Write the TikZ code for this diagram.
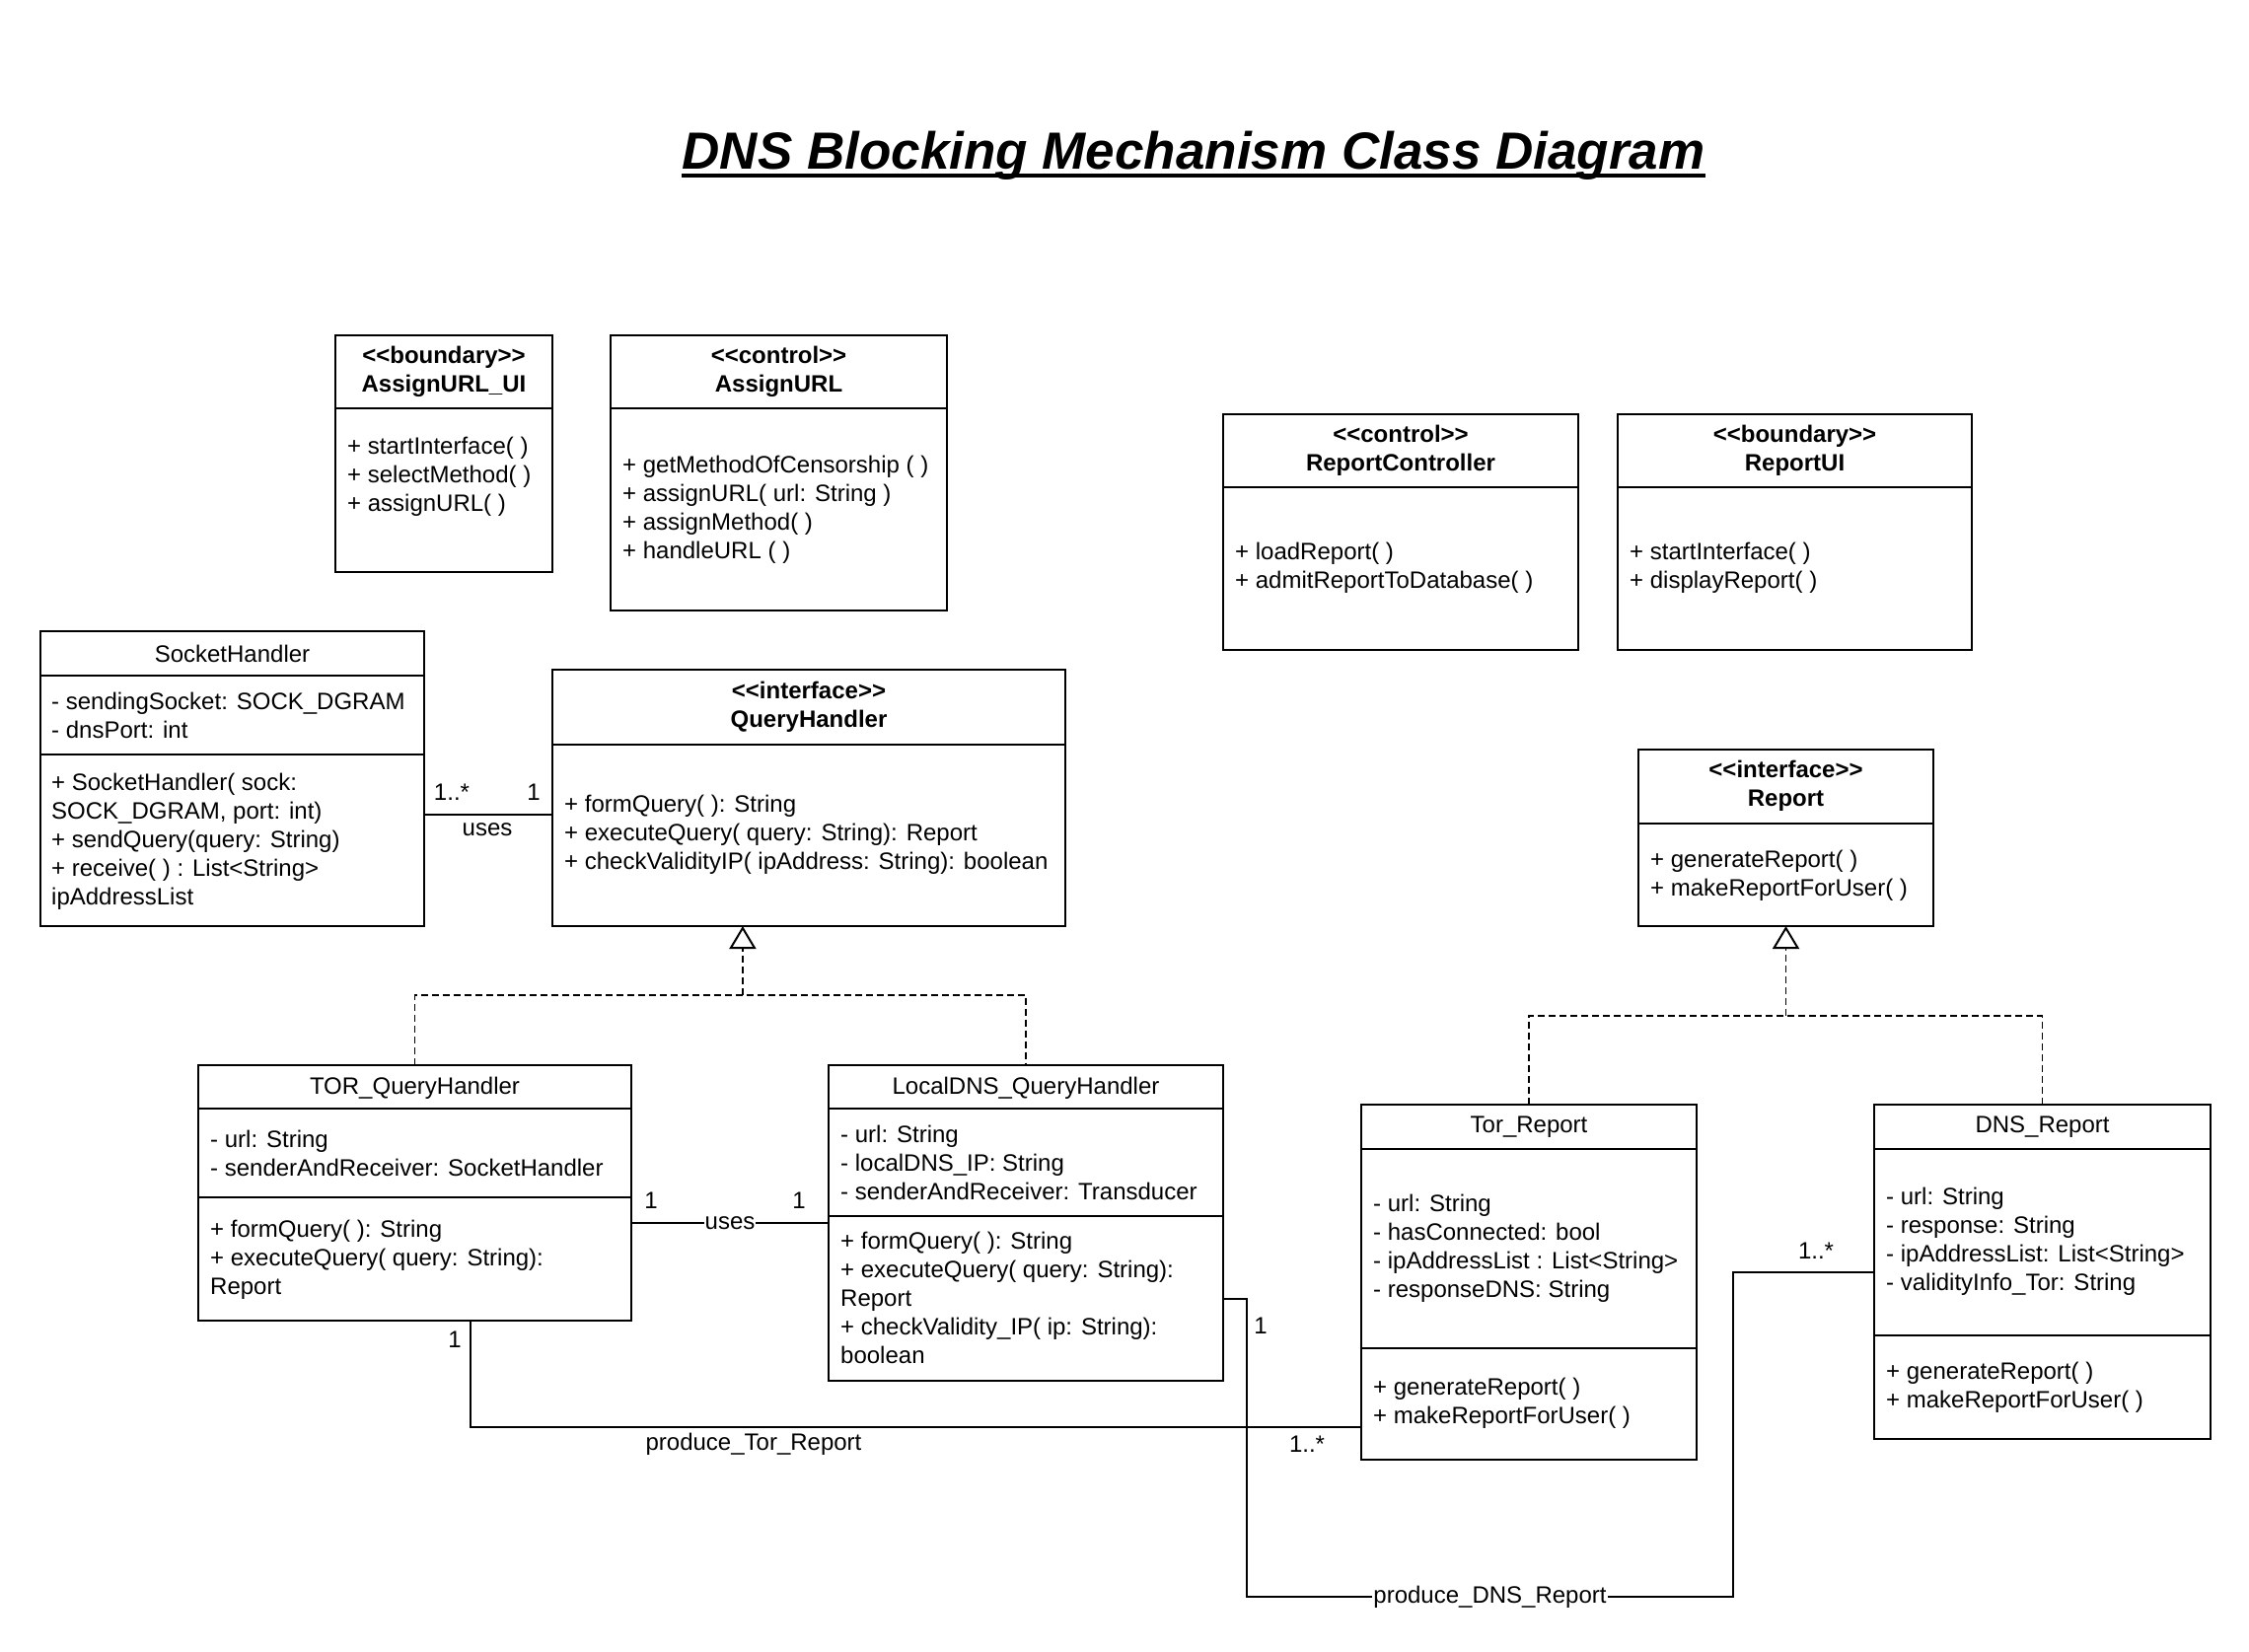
\documentclass[tikz,border=0pt]{standalone}
\usepackage{fontspec}
\setmainfont{Liberation Sans}
\usetikzlibrary{arrows.meta,calc}
\newcommand\lgl{<\kern0pt<}
\newcommand\rgr{>\kern0pt>}
\begin{document}
\begin{tikzpicture}[x=1pt,y=-1pt,
  cls/.style={draw, line width=2pt, rectangle, inner sep=0pt, outer sep=0pt, anchor=north west},
  div/.style={line width=2pt},
  txt/.style={font=\fontsize{24}{29}\selectfont, align=left, inner sep=0pt, anchor=west, yshift=-3pt},
  hdr/.style={font=\fontsize{24}{29}\selectfont\bfseries, align=center, inner sep=0pt, yshift=-3pt},
  cname/.style={font=\fontsize{24}{29}\selectfont, inner sep=0pt, yshift=-1.5pt},
  lbl/.style={font=\fontsize{24}{29}\selectfont, inner sep=0pt},
  conn/.style={line width=2pt},
  real/.style={line width=1.8pt, dash pattern=on 7pt off 4pt},
  gtip/.style={-{Triangle[open, width=27pt, length=23pt, line width=2pt]}}
]
\useasboundingbox[fill=white] (0,0) rectangle (2280,1675);

% title
\node[font=\fontsize{53}{64}\selectfont\bfseries\itshape, inner sep=0pt, anchor=base] (title) at (1210,171) {DNS Blocking Mechanism Class Diagram};
\draw[line width=4.5pt] ([yshift=-7pt]title.base west) -- ([yshift=-7pt]title.base east);

% AssignURL_UI
\node[cls, minimum width=220pt, minimum height=240pt] (aui) at (340,340) {};
\draw[div] (340,414) -- (560,414);
\node[hdr] (auiT) at (450,373.5) {\lgl boundary\rgr\\AssignURL\_UI};
\node[txt] (auiM) at (352,480) {+ startInterface( )\\+ selectMethod( )\\+ assignURL( )};

% AssignURL
\node[cls, minimum width=341pt, minimum height=279pt] (au) at (619,340) {};
\draw[div] (619,414) -- (960,414);
\node[hdr] (auT) at (789.5,373.5) {\lgl control\rgr\\AssignURL};
\node[txt] (auM) at (631,514) {+ getMethodOfCensorship ( )\\+ assignURL( url: String )\\+ assignMethod( )\\+ handleURL ( )};

% ReportController
\node[cls, minimum width=360pt, minimum height=239pt] (rc) at (1240,420) {};
\draw[div] (1240,494) -- (1600,494);
\node[hdr] (rcT) at (1420,453.5) {\lgl control\rgr\\ReportController};
\node[txt] (rcM) at (1252,572.5) {+ loadReport( )\\+ admitReportToDatabase( )};

% ReportUI
\node[cls, minimum width=359pt, minimum height=239pt] (rui) at (1640,420) {};
\draw[div] (1640,494) -- (1999,494);
\node[hdr] (ruiT) at (1819.5,453.5) {\lgl boundary\rgr\\ReportUI};
\node[txt] (ruiM) at (1652,572.5) {+ startInterface( )\\+ displayReport( )};

% SocketHandler
\node[cls, minimum width=389pt, minimum height=299pt] (sh) at (41,640) {};
\draw[div] (41,685) -- (430,685);
\draw[div] (41,765) -- (430,765);
\node[cname] (shT) at (235.5,661) {SocketHandler};
\node[txt] (shA) at (52,722.5) {- sendingSocket: SOCK\_DGRAM\\- dnsPort: int};
\node[txt] (shM) at (52,850) {+ SocketHandler( sock:\\SOCK\_DGRAM, port: int)\\+ sendQuery(query: String)\\+ receive( ) : List<String>\\ipAddressList};

% QueryHandler
\node[cls, minimum width=520pt, minimum height=260pt] (qh) at (560,679) {};
\draw[div] (560,755) -- (1080,755);
\node[hdr] (qhT) at (820,713.5) {\lgl interface\rgr\\QueryHandler};
\node[txt] (qhM) at (572,843.5) {+ formQuery( ): String\\+ executeQuery( query: String): Report\\+ checkValidityIP( ipAddress: String): boolean};

% Report (interface)
\node[cls, minimum width=299pt, minimum height=179pt] (rep) at (1661,760) {};
\draw[div] (1661,835) -- (1960,835);
\node[hdr] (repT) at (1810.5,793.5) {\lgl interface\rgr\\Report};
\node[txt] (repM) at (1673,884.5) {+ generateReport( )\\+ makeReportForUser( )};

% TOR_QueryHandler
\node[cls, minimum width=439pt, minimum height=259pt] (tqh) at (201,1080) {};
\draw[div] (201,1124) -- (640,1124);
\draw[div] (201,1214) -- (640,1214);
\node[cname] (tqhT) at (420.5,1102) {TOR\_QueryHandler};
\node[txt] (tqhA) at (213,1166.5) {- url: String\\- senderAndReceiver: SocketHandler};
\node[txt] (tqhM) at (213,1274) {+ formQuery( ): String\\+ executeQuery( query: String):\\Report};

% LocalDNS_QueryHandler
\node[cls, minimum width=400pt, minimum height=320pt] (ldq) at (840,1080) {};
\draw[div] (840,1124) -- (1240,1124);
\draw[div] (840,1233) -- (1240,1233);
\node[cname] (ldqT) at (1040,1102) {LocalDNS\_QueryHandler};
\node[txt] (ldqA) at (852,1175.5) {- url: String\\- localDNS\_IP: String\\- senderAndReceiver: Transducer};
\node[txt] (ldqM) at (852,1312.5) {+ formQuery( ): String\\+ executeQuery( query: String):\\Report\\+ checkValidity\_IP( ip: String):\\boolean};

% Tor_Report
\node[cls, minimum width=340pt, minimum height=360pt] (trp) at (1380,1120) {};
\draw[div] (1380,1165) -- (1720,1165);
\draw[div] (1380,1367) -- (1720,1367);
\node[cname] (trpT) at (1550,1141) {Tor\_Report};
\node[txt] (trpA) at (1392,1263) {- url: String\\- hasConnected: bool\\- ipAddressList : List<String>\\- responseDNS: String};
\node[txt] (trpM) at (1392,1420) {+ generateReport( )\\+ makeReportForUser( )};

% DNS_Report
\node[cls, minimum width=341pt, minimum height=339pt] (dnr) at (1900,1120) {};
\draw[div] (1900,1165) -- (2241,1165);
\draw[div] (1900,1354) -- (2241,1354);
\node[cname] (dnrT) at (2070.5,1141) {DNS\_Report};
\node[txt] (dnrA) at (1912,1256) {- url: String\\- response: String\\- ipAddressList: List<String>\\- validityInfo\_Tor: String};
\node[txt] (dnrM) at (1912,1404) {+ generateReport( )\\+ makeReportForUser( )};

% SocketHandler -- QueryHandler (uses)
\draw[conn] ($(sh.north east)!0.622!(sh.south east)$) coordinate (shq) -- (shq -| qh.west);
\node[lbl] (l1) at (458,803) {1..*};
\node[lbl] (l2) at (541,803) {1};
\node[lbl] (l3) at (494,841) {uses};

% realization to QueryHandler
\coordinate (qhb) at ($(qh.south west)!0.371!(qh.south east)$);
\coordinate (g1) at ($(qhb)+(0,70)$);
\draw[real] (tqh.north) |- (g1) -| (ldq.north);
\draw[real, gtip] (g1) -- (qhb);

% realization to Report
\coordinate (g2) at ($(rep.south)+(0,91)$);
\draw[real] (trp.north) |- (g2) -| (dnr.north);
\draw[real, gtip] (g2) -- (rep.south);

% TOR -- LocalDNS (uses)
\draw[conn] (ldq.west) -- (ldq.west -| tqh.east) node[midway, lbl, fill=white, inner xsep=1pt] (l4) {uses};
\node[lbl] (l5) at (660,1217) {1};
\node[lbl] (l6) at (810,1217) {1};

% produce_Tor_Report
\draw[conn] ($(tqh.south west)!0.629!(tqh.south east)$) |- ($(trp.north west)!0.908!(trp.south west)$);
\node[lbl] (l7) at (461,1358) {1};
\node[lbl] (l8) at (764,1464) {produce\_Tor\_Report};
\node[lbl] (l9) at (1325,1464) {1..*};

% produce_DNS_Report
\coordinate (d1) at (1264,1619);
\coordinate (d2) at (1757,1619);
\draw[conn] ($(ldq.north east)!0.741!(ldq.south east)$) -| (d1) -- (d2) node[midway, lbl, fill=white, inner xsep=1pt] (l10) {produce\_DNS\_Report} |- (dnr.west);
\node[lbl] (l11) at (1278,1344) {1};
\node[lbl] (l12) at (1841,1268) {1..*};
\end{tikzpicture}
\end{document}
